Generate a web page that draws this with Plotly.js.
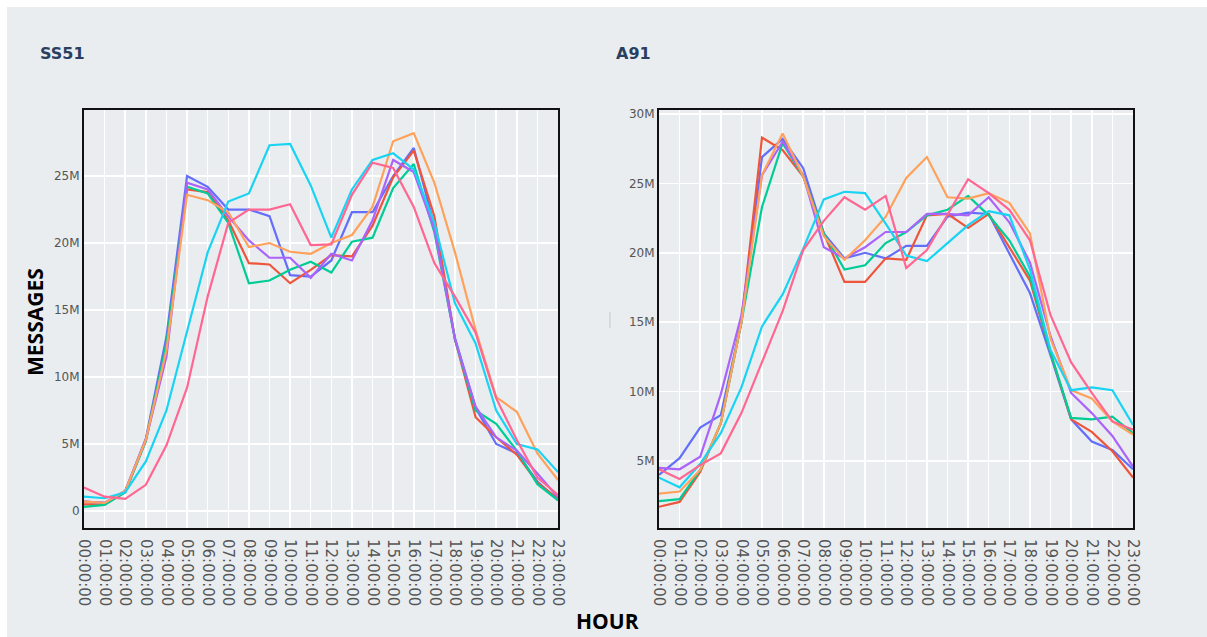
<!DOCTYPE html>
<html><head><meta charset="utf-8">
<script src="https://cdn.plot.ly/plotly-3.0.1.min.js"></script>
<style>
html,body{margin:0;padding:0;background:#ffffff;overflow:hidden;width:1207px;height:637px}
#chart{position:absolute;left:7px;top:7px;width:1200px;height:630px}
</style>
</head><body><div id="chart"></div>
<script>
const hours = ["00:00:00","01:00:00","02:00:00","03:00:00","04:00:00","05:00:00","06:00:00","07:00:00",
  "08:00:00","09:00:00","10:00:00","11:00:00","12:00:00","13:00:00","14:00:00","15:00:00",
  "16:00:00","17:00:00","18:00:00","19:00:00","20:00:00","21:00:00","22:00:00","23:00:00"];
const seriesNames = ["Monday","Tuesday","Wednesday","Thursday","Friday","Saturday","Sunday"];
const colors = ["#636efa","#EF553B","#00cc96","#ab63fa","#FFA15A","#19d3f3","#FF6692"];
const panelTitles = ["SS51","A91"];

// SS51 (millions of messages)
const ss51Mon = [0.7,0.6,1.5,5.4,13.0,25.0,24.2,22.5,22.5,22.0,17.6,17.5,18.7,22.3,22.3,25.0,27.1,21.3,12.9,7.7,5.0,4.3,2.2,0.8];
const ss51Tue = [0.5,0.5,1.4,5.3,12.2,24.0,23.8,21.7,18.5,18.4,17.0,18.0,19.1,19.0,21.3,24.9,26.9,22.0,12.8,7.0,5.5,4.2,2.1,0.9];
const ss51Wed = [0.3,0.45,1.4,5.2,12.5,24.2,23.7,21.5,17.0,17.2,18.0,18.6,17.8,20.1,20.4,24.1,25.9,20.8,12.8,7.5,6.5,4.5,2.0,0.8];
const ss51Thu = [0.7,0.6,1.5,5.3,11.5,24.5,24.0,22.0,20.2,18.9,18.9,17.4,19.2,18.7,21.7,26.2,25.3,21.0,12.8,7.8,5.5,4.5,2.8,1.0];
const ss51Fri = [0.7,0.6,1.5,5.3,12.0,23.6,23.2,22.3,19.7,20.0,19.35,19.2,20.0,20.6,22.7,27.6,28.2,24.5,19.3,13.5,8.5,7.4,4.3,2.3];
const ss51Sat = [1.07,0.95,1.4,3.7,7.5,13.5,19.3,23.1,23.7,27.3,27.4,24.3,20.4,24.0,26.2,26.7,25.5,21.5,15.5,12.5,7.5,5.0,4.6,2.9];
const ss51Sun = [1.75,1.07,0.9,1.95,4.9,9.2,16.0,21.5,22.5,22.5,22.9,19.85,19.9,23.6,26.0,25.6,22.7,18.5,16.0,13.3,8.4,5.3,2.5,1.2];

// A91 (millions of messages)
const a91Mon = [4.0,5.2,7.4,8.3,15.0,26.9,28.2,26.1,21.4,19.6,20.0,19.6,20.5,20.5,22.6,22.9,22.8,20.0,17.1,12.6,8.0,6.4,5.8,4.4];
const a91Tue = [1.7,2.05,4.2,7.7,15.0,28.3,27.4,25.5,21.4,17.9,17.9,19.6,19.5,22.7,22.8,21.8,22.8,20.4,18.0,12.8,8.0,7.1,5.7,3.8];
const a91Wed = [2.1,2.25,4.35,7.7,15.0,23.3,27.9,25.5,21.4,18.8,19.1,20.7,21.5,22.7,23.1,24.1,22.7,20.9,18.3,12.8,8.1,8.0,8.2,7.0];
const a91Thu = [4.5,4.4,5.3,9.8,15.5,25.6,28.0,25.6,20.4,19.6,20.4,21.5,21.5,22.8,22.8,22.7,24.0,22.2,19.3,14.0,9.9,8.45,6.8,4.6];
const a91Fri = [2.65,2.8,4.35,7.7,15.0,25.6,28.6,25.5,21.2,19.5,20.9,22.6,25.4,26.9,24.0,23.9,24.3,23.6,21.4,13.8,10.1,9.5,7.85,6.9];
const a91Sat = [3.8,3.1,4.8,7.0,10.3,14.7,17.0,20.3,23.85,24.4,24.3,22.1,19.8,19.4,20.7,22.0,23.0,22.7,18.8,13.0,10.1,10.3,10.1,7.6];
const a91Sun = [4.4,3.7,4.7,5.55,8.45,12.1,15.8,20.2,22.3,24.0,23.1,24.1,18.9,20.2,22.8,25.3,24.3,23.1,20.9,15.5,12.1,9.9,7.85,7.25];

const ss51Series = [ss51Mon,ss51Tue,ss51Wed,ss51Thu,ss51Fri,ss51Sat,ss51Sun];
const a91Series = [a91Mon,a91Tue,a91Wed,a91Thu,a91Fri,a91Sat,a91Sun];
const MILLION = 1e6;

const traces = [];
[[ss51Series,'x','y'],[a91Series,'x2','y2']].forEach(([set,xa,ya]) => {
  set.forEach((vals,i) => {
    traces.push({
      type:'scatter', mode:'lines', name: seriesNames[i],
      x: hours, y: vals.map(v => v*MILLION),
      xaxis: xa, yaxis: ya,
      line:{color: colors[i], width:2.2},
      showlegend:false
    });
  });
});

const bg = '#e9edf0';
const xCommon = {
  type:'category', tickangle:90, showgrid:true, gridcolor:'#ffffff', gridwidth:1.5,
  showline:true, linecolor:'#111111', linewidth:2, mirror:true, zeroline:false,
  tickfont:{family:'DejaVu Sans', size:15, color:'#555555'}, ticks:'', ticklabelstandoff:6
};
const yCommon = {
  showgrid:true, gridcolor:'#ffffff', gridwidth:1.5, dtick:5*MILLION, tick0:0,
  showline:true, linecolor:'#111111', linewidth:2, mirror:true, zeroline:false,
  tickfont:{family:'DejaVu Sans', size:12, color:'#555555'}, ticks:''
};

const layout = {
  width:1200, height:630,
  paper_bgcolor: bg, plot_bgcolor: bg,
  margin:{l:77, r:74, t:103, b:109},
  showlegend:false,
  xaxis: Object.assign({}, xCommon, {domain:[0,0.4519], anchor:'y'}),
  xaxis2: Object.assign({}, xCommon, {domain:[0.5481,1], anchor:'y2'}),
  yaxis: Object.assign({}, yCommon, {range:[-1.27*MILLION, 29.93*MILLION], anchor:'x'}),
  yaxis2: Object.assign({}, yCommon, {range:[0.17*MILLION, 30.29*MILLION], anchor:'x2'}),
  shapes:[
    {type:'line', xref:'paper', yref:'paper', x0:0.5014, x1:0.5014, y0:0.4785, y1:0.5167,
     line:{color:'#c4c8cc', width:1}}
  ],
  annotations:[
    {text: panelTitles[0], xref:'paper', yref:'paper', x:-0.0439, y:1.136, xanchor:'left', yanchor:'middle',
     showarrow:false, font:{family:'DejaVu Sans', size:16, color:'#2a3f5f', weight:'bold'}},
    {text: panelTitles[1], xref:'paper', yref:'paper', x:0.5052, y:1.136, xanchor:'left', yanchor:'middle',
     showarrow:false, font:{family:'DejaVu Sans', size:16, color:'#2a3f5f', weight:'bold'}},
    {text:'MESSAGES', xref:'paper', yref:'paper', x:-0.0467, y:0.493, xanchor:'center', yanchor:'middle',
     textangle:-90, showarrow:false, font:{family:'Open Sans', size:21, color:'#000000', weight:'bold'}},
    {text:'HOUR', xref:'paper', yref:'paper', x:0.4986, y:-0.222, xanchor:'center', yanchor:'middle',
     showarrow:false, font:{family:'Open Sans', size:21, color:'#000000', weight:'bold'}}
  ]
};

Plotly.newPlot('chart', traces, layout, {displayModeBar:false, staticPlot:true});
</script>
</body></html>
